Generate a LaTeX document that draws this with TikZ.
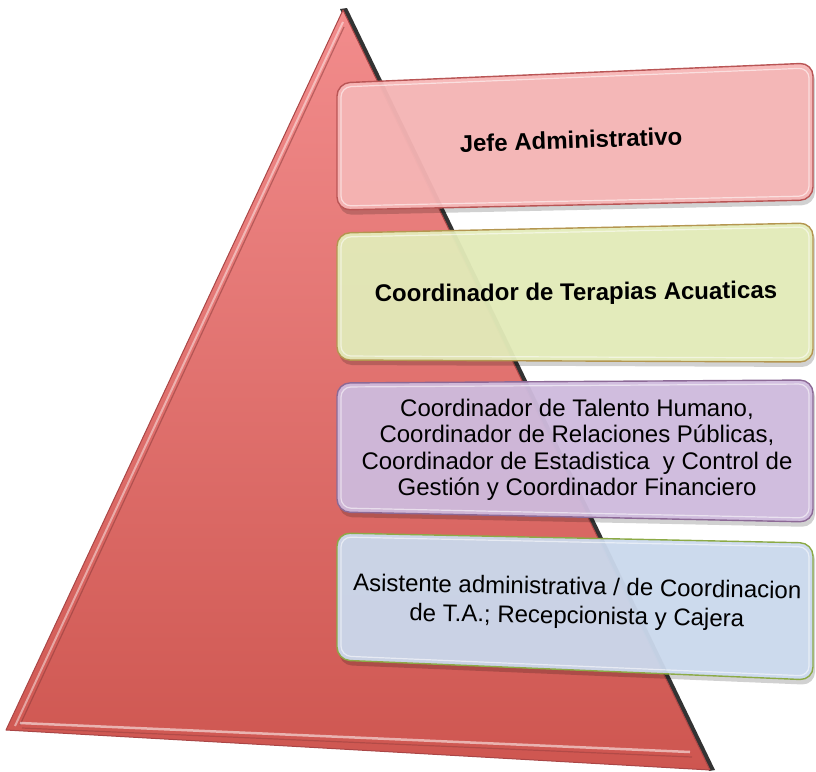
\documentclass[tikz,border=0pt]{standalone}
\usepackage{fontspec}
\setmainfont{Liberation Sans}
\usetikzlibrary{calc}
\definecolor{triTop}{RGB}{242,140,140}
\definecolor{triBot}{RGB}{206,86,80}
\definecolor{triEdge}{RGB}{170,70,70}
\definecolor{bAf}{RGB}{247,182,182}
\definecolor{bAd}{RGB}{185,85,85}
\definecolor{bBf}{RGB}{228,236,186}
\definecolor{bBd}{RGB}{180,150,80}
\definecolor{bCf}{RGB}{208,188,222}
\definecolor{bCd}{RGB}{140,105,150}
\definecolor{bDf}{RGB}{204,218,238}
\definecolor{bDd}{RGB}{140,170,70}
\tikzset{
  boxshape/.style={rounded corners=13pt, line width=1.4pt},
  boxshadow/.style={rounded corners=13pt, fill=black, opacity=0.18},
  boxgloss/.style={rounded corners=10pt, draw=white, opacity=0.55, line width=1.2pt},
  boldtxt/.style={font=\bfseries\fontsize{24}{28}\selectfont, align=center},
  plaintxt/.style={font=\fontsize{24}{26.5}\selectfont, align=center},
}
\begin{document}
\begin{tikzpicture}[x=1pt,y=-1pt]
\useasboundingbox (0,0) rectangle (816,771);
% triangle
\coordinate (apex) at (343,10);
\coordinate (bl) at (6,730);
\coordinate (br) at (710,770);
\fill[black!80] (340,9) -- (347,8) -- (715,770) -- (709,771) -- cycle;
\shade[top color=triTop, bottom color=triBot] (apex) -- (br) -- (bl) -- cycle;
\draw[triEdge, line width=1pt, line join=round] (apex) -- (br) -- (bl) -- cycle;
\draw[white, opacity=0.45, line width=2pt] (343,22) -- (15,726);
\draw[triEdge!80!black, opacity=0.5, line width=1.2pt] (344,27) -- (20,725);
\draw[white, opacity=0.55, line width=2.5pt] (20,723) -- (690,752);
\draw[triEdge!80!black, opacity=0.4, line width=1.2pt] (22,728) -- (692,757);
% box 1
\fill[boxshadow] (339,87) -- (815,67) -- (815,205) -- (339,215) -- cycle;
\path[boxshape, draw=bAd, fill=bAf, fill opacity=0.95] (337,83) -- (813,63) -- (813,200) -- (337,210) -- cycle;
\draw[boxgloss] (341,87) -- (809,68) -- (809,196) -- (341,206) -- cycle;
\node[boldtxt, rotate=2] (t1) at (571,140) {Jefe Administrativo};
% box 2
\fill[boxshadow] (339,237) -- (815,227) -- (815,367) -- (339,365) -- cycle;
\path[boxshape, draw=bBd, fill=bBf, fill opacity=0.95] (337,233) -- (813,223) -- (813,362) -- (337,360) -- cycle;
\draw[boxgloss] (341,237) -- (809,227) -- (809,358) -- (341,356) -- cycle;
\node[boldtxt, rotate=0.5] (t2) at (576,294) {Coordinador de Terapias Acuaticas};
% box 3
\fill[boxshadow] (339,387) -- (815,384) -- (815,527) -- (339,517) -- cycle;
\path[boxshape, draw=bCd, fill=bCf, fill opacity=0.95] (337,383) -- (813,380) -- (813,522) -- (337,512) -- cycle;
\draw[boxgloss] (341,387) -- (809,384) -- (809,518) -- (341,508) -- cycle;
\node[plaintxt] (t3) at (577,450) {Coordinador de Talento Humano,\\Coordinador de Relaciones Públicas,\\Coordinador de Estadistica\ \ y Control de\\Gestión y Coordinador Financiero};
% box 4
\fill[boxshadow] (339,537) -- (815,547) -- (815,685) -- (339,665) -- cycle;
\path[boxshape, draw=bDd, fill=bDf, fill opacity=0.95] (337,533) -- (813,543) -- (813,680) -- (337,660) -- cycle;
\draw[boxgloss] (341,537) -- (809,547) -- (809,676) -- (341,656) -- cycle;
\node[plaintxt, font=\fontsize{24}{29}\selectfont, rotate=-1] (t4) at (577,603) {Asistente administrativa / de Coordinacion\\de T.A.; Recepcionista y Cajera};
\end{tikzpicture}
\end{document}
